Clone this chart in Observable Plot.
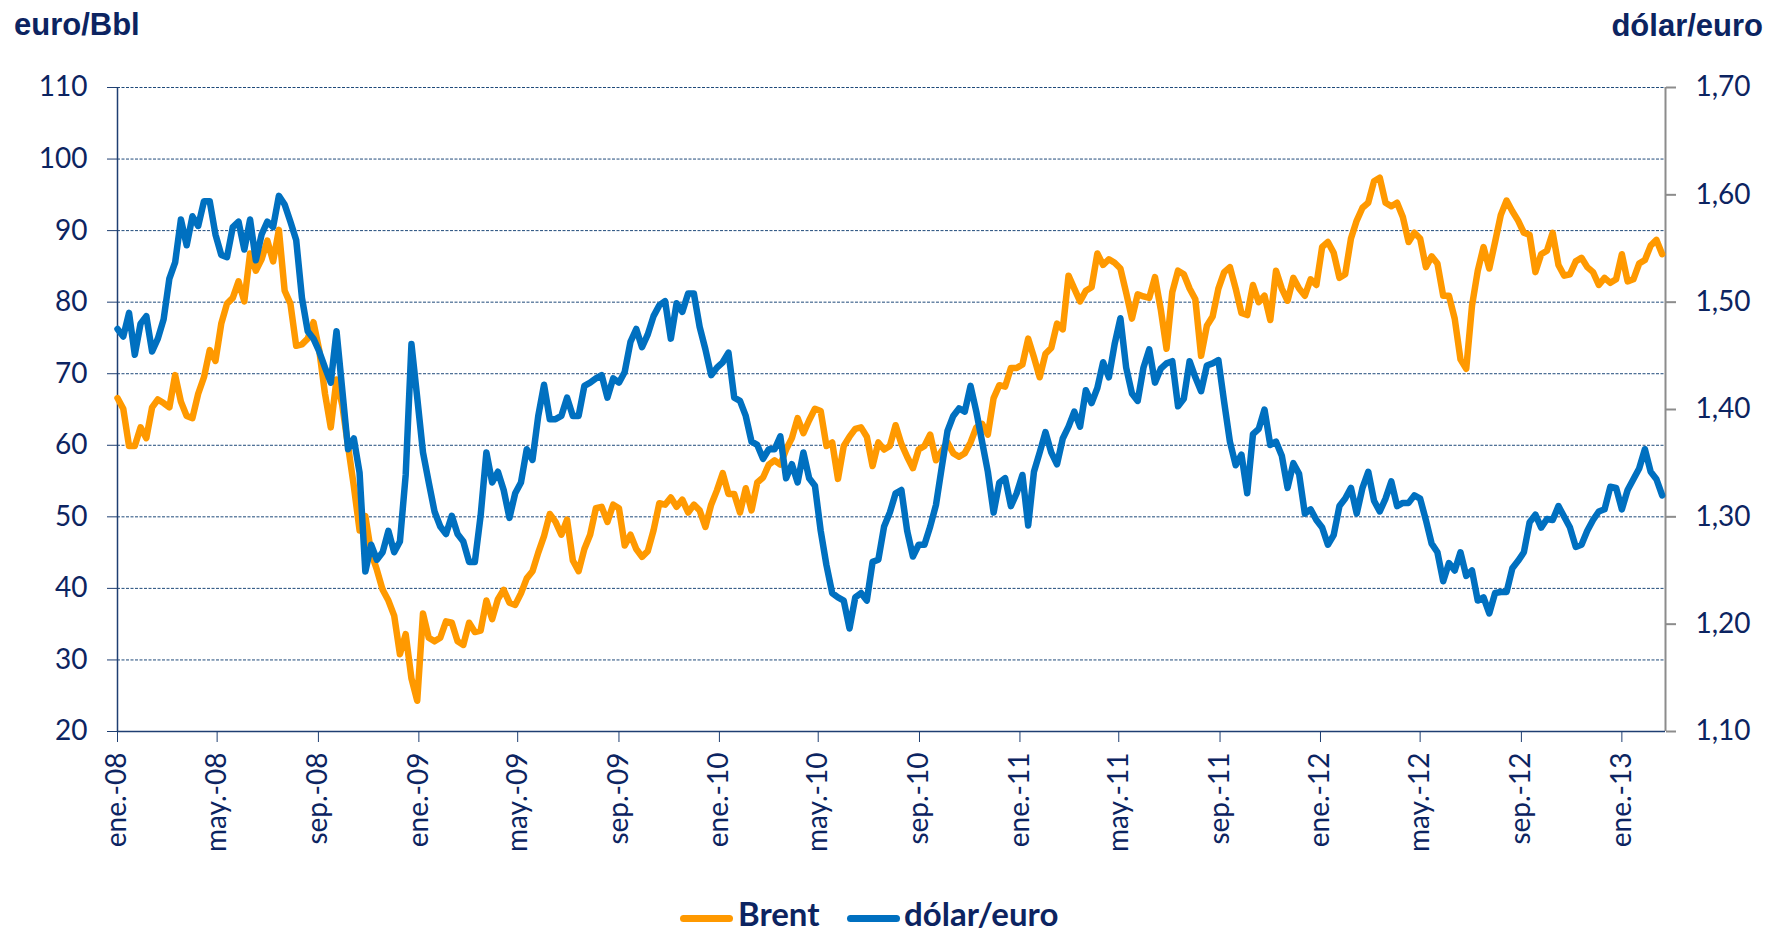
<!DOCTYPE html>
<html><head><meta charset="utf-8">
<script src="https://cdn.jsdelivr.net/npm/d3@7"></script>
<script src="https://cdn.jsdelivr.net/npm/@observablehq/plot@0.6"></script>
<style>
html,body{margin:0;padding:0;background:#fff;}
#wrap{position:relative;width:1767px;height:934px;overflow:hidden;background:#fff;}
#chart{position:absolute;left:0;top:0;}
.ytitle{position:absolute;font-family:"Liberation Sans",Arial,sans-serif;font-weight:bold;font-size:31px;line-height:31px;color:#0c2461;white-space:nowrap;}
.lg{position:absolute;top:893px;height:40px;font-family:Lato,sans-serif;font-weight:bold;font-size:33px;line-height:40px;color:#0c2461;white-space:nowrap;}
.sw{position:absolute;top:915px;width:53px;height:7px;border-radius:4px;}
</style></head>
<body><div id="wrap">
<div class="ytitle" style="left:14px;top:9px">euro/Bbl</div>
<div class="ytitle" style="right:4px;top:10px">dólar/euro</div>
<div id="chart"></div>
<div class="sw" style="left:680px;background:#FF9900"></div>
<div class="lg" style="left:738px">Brent</div>
<div class="sw" style="left:847px;background:#0070C0"></div>
<div class="lg" style="left:904px">dólar/euro</div>
</div>
<script>
// ---- data (weekly observations starting 2008-01-01) ----
const startDate = "2008-01-01";
const stepDays = 7;
const brent = [
66.6,65.1,59.9,59.9,62.5,61.0,65.3,66.4,65.9,65.3,
69.8,66.1,64.1,63.8,67.2,69.5,73.3,71.8,77.0,79.8,
80.6,82.9,80.1,86.8,84.4,86.0,88.6,85.7,90.1,81.6,
79.8,73.9,74.1,74.9,77.2,73.3,67.2,62.5,69.2,65.6,
59.9,54.3,48.1,50.1,45.0,42.6,39.8,38.3,36.2,30.8,
33.6,27.4,24.3,36.5,33.1,32.6,33.1,35.4,35.2,32.6,
32.1,35.2,33.9,34.1,38.3,35.7,38.5,39.8,38.0,37.7,
39.3,41.4,42.4,45.0,47.3,50.4,49.3,47.5,49.6,43.9,
42.4,45.5,47.5,51.2,51.4,49.3,51.7,51.2,46.0,47.5,
45.5,44.4,45.2,48.1,51.9,51.7,52.7,51.4,52.4,50.6,
51.7,50.9,48.6,51.7,53.7,56.1,53.2,53.2,50.6,54.0,
50.9,54.8,55.5,57.3,57.9,57.3,59.4,61.0,63.8,61.7,
63.5,65.1,64.8,59.9,60.4,55.3,59.9,61.2,62.3,62.5,
61.2,57.1,60.4,59.4,59.9,62.8,60.2,58.4,56.8,59.4,
59.9,61.5,57.9,59.2,60.4,58.9,58.4,58.9,60.4,62.5,
63.0,61.5,66.6,68.4,68.2,70.8,70.8,71.3,74.9,72.3,
69.5,72.8,73.6,77.0,76.2,83.7,81.9,80.1,81.6,82.1,
86.8,85.2,86.0,85.5,84.7,81.3,77.7,81.1,80.8,80.6,
83.5,79.0,73.5,81.4,84.4,83.9,81.9,80.4,72.5,76.7,
78.0,81.9,84.2,84.9,81.9,78.5,78.2,82.4,80.0,80.9,
77.5,84.4,81.9,80.2,83.4,81.9,80.9,83.2,82.4,87.7,
88.4,86.9,83.4,83.9,88.9,91.4,93.2,93.9,96.9,97.4,
93.9,93.4,93.9,91.9,88.4,89.7,88.9,84.9,86.4,85.4,
80.9,80.9,77.7,72.0,70.7,79.5,84.4,87.7,84.7,88.4,
92.2,94.2,92.7,91.4,89.7,89.4,84.2,86.7,87.2,89.7,
85.2,83.7,83.9,85.7,86.2,84.9,84.2,82.4,83.4,82.7,
83.2,86.7,82.9,83.2,85.4,85.9,87.9,88.7,86.7
];
const dolarEuro = [
1.475,1.468,1.490,1.451,1.480,1.487,1.454,1.466,1.484,1.522,
1.537,1.577,1.553,1.580,1.571,1.594,1.594,1.563,1.544,1.542,
1.570,1.575,1.549,1.577,1.539,1.563,1.575,1.570,1.599,1.591,
1.575,1.558,1.504,1.473,1.466,1.454,1.439,1.425,1.473,1.418,
1.363,1.373,1.341,1.249,1.274,1.260,1.267,1.287,1.267,1.277,
1.339,1.461,1.411,1.360,1.332,1.305,1.291,1.284,1.301,1.284,
1.277,1.258,1.258,1.301,1.360,1.332,1.342,1.325,1.299,1.322,
1.332,1.363,1.353,1.394,1.423,1.391,1.391,1.394,1.411,1.394,
1.394,1.422,1.425,1.429,1.432,1.411,1.429,1.425,1.435,1.463,
1.475,1.458,1.470,1.487,1.497,1.501,1.466,1.499,1.491,1.508,
1.508,1.477,1.456,1.432,1.439,1.444,1.453,1.411,1.408,1.394,
1.370,1.367,1.354,1.363,1.363,1.375,1.336,1.349,1.332,1.360,
1.336,1.329,1.287,1.255,1.229,1.225,1.222,1.196,1.225,1.229,
1.222,1.258,1.260,1.291,1.304,1.322,1.325,1.287,1.263,1.274,
1.274,1.291,1.311,1.346,1.380,1.394,1.401,1.398,1.422,1.398,
1.370,1.342,1.304,1.332,1.336,1.310,1.322,1.339,1.292,1.342,
1.360,1.379,1.360,1.349,1.373,1.384,1.398,1.384,1.418,1.406,
1.420,1.444,1.430,1.461,1.485,1.439,1.415,1.408,1.439,1.456,
1.425,1.438,1.443,1.445,1.403,1.410,1.445,1.430,1.417,1.441,
1.443,1.446,1.407,1.370,1.348,1.358,1.322,1.377,1.382,1.400,
1.367,1.370,1.357,1.327,1.350,1.340,1.303,1.307,1.297,1.290,
1.274,1.283,1.310,1.317,1.327,1.303,1.327,1.342,1.315,1.305,
1.317,1.333,1.310,1.313,1.313,1.320,1.317,1.297,1.275,1.267,
1.240,1.257,1.250,1.267,1.245,1.250,1.222,1.225,1.210,1.229,
1.230,1.230,1.252,1.259,1.267,1.295,1.302,1.290,1.298,1.297,
1.310,1.300,1.290,1.272,1.274,1.287,1.297,1.305,1.307,1.328,
1.327,1.307,1.325,1.335,1.345,1.363,1.342,1.335,1.320
];
const xTickDates = ["2008-01-01","2008-05-01","2008-09-01","2009-01-01","2009-05-01","2009-09-01",
  "2010-01-01","2010-05-01","2010-09-01","2011-01-01","2011-05-01","2011-09-01",
  "2012-01-01","2012-05-01","2012-09-01","2013-01-01"];
const xTickLabels = ["ene.-08","may.-08","sep.-08","ene.-09","may.-09","sep.-09",
  "ene.-10","may.-10","sep.-10","ene.-11","may.-11","sep.-11",
  "ene.-12","may.-12","sep.-12","ene.-13"];
const leftTicks = [20,30,40,50,60,70,80,90,100,110];
const rightTicks = [1.10,1.20,1.30,1.40,1.50,1.60,1.70];
const xDomain = ["2008-01-01","2013-02-23"];
const leftDomain = [20,110];
const rightDomain = [1.10,1.70];

// ---- build ----
const navy = "#0c2461";
const start = new Date(startDate + "T00:00:00Z");
const dateAt = i => new Date(start.getTime() + i * stepDays * 864e5);
const toLeft = v => leftDomain[0] + (v - rightDomain[0]) / (rightDomain[1] - rightDomain[0]) * (leftDomain[1] - leftDomain[0]);
const fromLeft = y => rightDomain[0] + (y - leftDomain[0]) / (leftDomain[1] - leftDomain[0]) * (rightDomain[1] - rightDomain[0]);
const brentData = brent.map((v, i) => ({date: dateAt(i), value: v}));
const usdData = dolarEuro.map((v, i) => ({date: dateAt(i), value: toLeft(v)}));
const tickDates = xTickDates.map(s => new Date(s + "T00:00:00Z"));
const labelMap = new Map(tickDates.map((d, i) => [+d, xTickLabels[i]]));
const domX = xDomain.map(s => new Date(s + "T00:00:00Z"));

const chart = Plot.plot({
  width: 1767,
  height: 845,
  marginLeft: 117,
  marginRight: 102,
  marginTop: 87,
  marginBottom: 114,
  x: {type: "utc", domain: domX},
  y: {domain: leftDomain},
  style: {fontFamily: "Lato, sans-serif", fontSize: "28px", color: navy, background: "transparent", overflow: "visible"},
  marks: [
    Plot.gridY(leftTicks.filter(d => d > 20), {stroke: "#1f4a7a", strokeOpacity: 1, strokeWidth: 1, strokeDasharray: "3,1.5"}),
    Plot.axisY(leftTicks, {anchor: "left", tickSize: 10, tickPadding: 20, stroke: "#1f3f72", fill: navy, label: null, tickFormat: d => String(d)}),
    Plot.axisY(rightTicks.map(toLeft), {anchor: "right", tickSize: 10, tickPadding: 20, stroke: "#8c8c8c", strokeWidth: 2, fill: navy, label: null,
      tickFormat: d => fromLeft(d).toFixed(2).replace(".", ",")}),
    Plot.ruleX([domX[0]], {stroke: "#1f3f72", strokeWidth: 1.5}),
    Plot.ruleX([domX[1]], {stroke: "#8c8c8c", strokeWidth: 2}),
    Plot.axisX(tickDates, {anchor: "bottom", tickSize: 11, tickPadding: 10, tickRotate: -90, stroke: "#1f3f72", fill: navy, label: null,
      tickFormat: d => labelMap.get(+d)}),
    Plot.ruleY([leftDomain[0]], {stroke: "#1f3f72", strokeWidth: 1.5}),
    Plot.line(brentData, {x: "date", y: "value", stroke: "#FF9900", strokeWidth: 6.5, strokeLinejoin: "round", strokeLinecap: "round"}),
    Plot.line(usdData, {x: "date", y: "value", stroke: "#0070C0", strokeWidth: 6.5, strokeLinejoin: "round", strokeLinecap: "round"})
  ]
});
document.getElementById("chart").appendChild(chart);
</script>
</body></html>
